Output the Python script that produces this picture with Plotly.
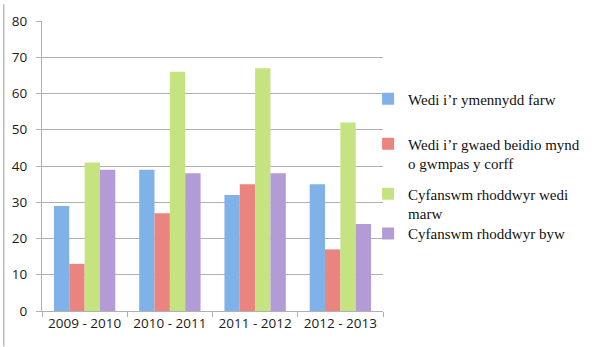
import plotly.graph_objects as go

# Reporting periods and donor counts per category
periods = ["2009 - 2010", "2010 - 2011", "2011 - 2012", "2012 - 2013"]
brain_dead = [29, 39, 32, 35]
circulatory_death = [13, 27, 35, 17]
total_deceased = [41, 66, 67, 52]
total_living = [39, 38, 38, 24]

series_names = [
    "Wedi i’r ymennydd farw",
    "Wedi i’r gwaed beidio mynd<br>o gwmpas y corff",
    "Cyfanswm rhoddwyr wedi<br>marw",
    "Cyfanswm rhoddwyr byw",
]
series_values = [brain_dead, circulatory_death, total_deceased, total_living]
series_colors = ["#80B2EA", "#EB837F", "#C6E381", "#B29BD7"]
legend_ids = ["legend", "legend2", "legend3", "legend4"]
legend_y = [0.731, 0.543, 0.371, 0.266]

W, H = 600, 347
M_L, M_R, M_T, M_B = 40, 217, 17, 36
plot_w = W - M_L - M_R
plot_h = H - M_T - M_B

fig = go.Figure()
for name, vals, col, lid in zip(series_names, series_values, series_colors, legend_ids):
    fig.add_trace(go.Bar(
        x=periods, y=vals, name=name, legend=lid,
        marker=dict(color=col, line=dict(width=0)),
    ))

legend_font = dict(family="Liberation Serif", size=15, color="#111111")
legend_x = (368 - M_L) / plot_w
legends = {}
for lid, ly in zip(legend_ids, legend_y):
    legends[lid] = dict(
        x=legend_x, y=ly, xanchor="left", yanchor="middle",
        font=legend_font, bgcolor="rgba(0,0,0,0)", valign="top",
    )

tick_font = dict(family="Open Sans", size=13.5, color="#1A1A1A")

fig.update_layout(
    width=W, height=H,
    margin=dict(l=M_L, r=M_R, t=M_T, b=M_B),
    paper_bgcolor="white", plot_bgcolor="white",
    barmode="group", bargap=0.28, bargroupgap=0,
    font=dict(family="Open Sans", size=13, color="#222222"),
    showlegend=True,
    **legends,
    xaxis=dict(
        showgrid=False, showline=True, linecolor="#B0B0B0", linewidth=1,
        ticks="outside", tickson="boundaries", ticklen=5, tickcolor="#B0B0B0",
        tickfont=tick_font,
    ),
    yaxis=dict(
        range=[0, 80], dtick=10, showgrid=True, gridcolor="#B0B0B0", gridwidth=1,
        showline=True, linecolor="#B0B0B0", linewidth=1,
        ticks="outside", ticklen=5, tickcolor="#B0B0B0",
        ticklabelstandoff=6, zeroline=False,
        tickfont=tick_font,
    ),
    shapes=[dict(
        type="line", xref="paper", yref="paper",
        x0=(1.5 - M_L) / plot_w, x1=(1.5 - M_L) / plot_w,
        y0=-M_B / plot_h, y1=(plot_h + M_T) / plot_h,
        line=dict(color="#BBBBBB", width=1.5),
    )],
)

fig.write_html("out.html")
